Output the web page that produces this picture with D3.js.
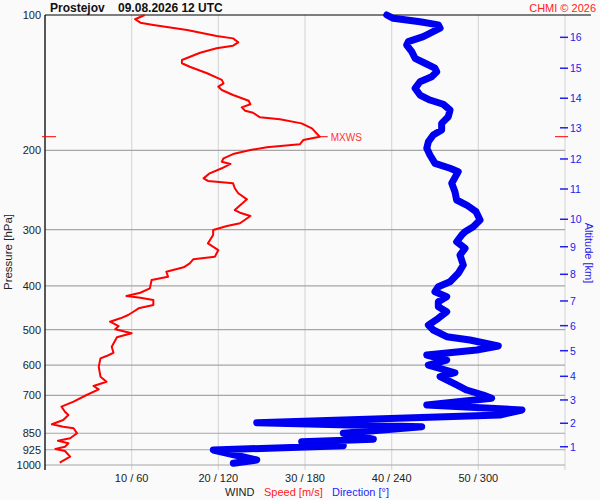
<!DOCTYPE html>
<html>
<head>
<meta charset="utf-8">
<script src="https://cdn.jsdelivr.net/npm/d3@7"></script>
<style>
  body { margin: 0; background: #fafafa; }
  svg { display: block; font-family: "Liberation Sans", Arial, sans-serif; }
</style>
</head>
<body>
<script>
var width = 600;
var height = 500;

// pressure levels [hPa] and wind speed [m/s]
var speedPres = [100.0,102.2,104.0,105.2,108.0,111.3,112.7,115.0,117.0,118.6,
  121.3,125.9,128.0,130.3,134.7,139.4,141.9,144.3,146.8,150.6,
  155.1,157.9,160.4,163.2,164.9,168.8,170.5,174.1,178.6,186.4,
  189.6,193.8,196.8,199.5,203.7,208.2,211.8,214.3,219.1,224.8,
  230.7,233.8,236.6,242.7,249.0,256.8,271.3,275.0,279.7,290.3,
  294.4,300.5,308.3,321.7,332.9,344.5,349.1,356.3,363.7,372.0,
  381.6,388.1,405.0,414.2,421.2,424.9,430.0,441.1,448.6,456.5,
  464.2,472.1,480.4,491.1,499.4,509.8,520.3,545.9,563.0,572.6,
  579.4,604.8,636.4,652.9,667.4,678.8,698.9,723.3,742.0,761.3,
  774.3,794.3,812.0,822.0,828.8,850.3,872.3,883.1,894.9,910.6,
  921.4,930.9,958.4,988.3];
var speedVals = [11.5,10.4,11.0,12.5,16.4,19.8,21.7,22.3,21.7,19.8,
  17.9,15.8,15.8,16.7,18.7,20.4,20.6,20.0,20.4,21.7,
  23.5,23.7,22.7,23.1,24.0,24.8,27.1,29.6,30.8,31.7,
  29.8,29.4,25.6,23.7,21.7,20.6,20.4,21.4,20.4,19.0,
  18.3,18.8,21.7,21.9,22.3,23.3,21.9,22.5,23.7,22.5,
  21.0,19.4,19.4,18.8,20.0,19.6,17.1,16.7,16.0,14.0,
  14.2,12.3,12.1,11.0,9.4,11.0,12.5,12.5,10.8,10.2,
  9.6,8.7,7.5,8.5,8.1,10.0,8.3,7.7,7.9,7.1,
  6.4,6.2,6.4,7.1,5.6,6.2,4.8,3.3,1.9,2.3,
  2.7,2.1,0.8,2.1,3.3,3.7,2.9,1.5,2.7,2.3,
  1.2,2.3,2.9,1.7];

// pressure levels [hPa] and wind direction [deg]
var dirPres = [100.0,101.7,103.5,105.2,107.0,111.7,114.6,116.6,120.6,124.8,
  128.0,131.3,133.7,137.1,140.7,145.5,150.6,154.5,157.9,162.6,
  168.3,174.1,180.2,184.8,191.3,197.8,204.7,213.6,219.1,222.9,
  236.6,247.0,257.7,264.4,273.6,285.5,295.4,303.1,308.3,319.1,
  330.0,341.5,359.4,375.0,391.5,401.6,412.1,422.7,433.8,445.0,
  456.5,472.1,488.6,501.2,518.7,527.6,544.0,555.3,569.7,584.5,
  599.6,623.7,636.4,664.0,681.3,698.9,710.9,735.6,754.7,774.3,
  805.4,822.0,850.3,876.8,887.6,906.0,926.2,974.7,991.3];
var dirVals = [236.6,241.1,259.6,272.3,273.5,261.9,251.5,250.4,253.9,256.2,
  263.1,270.0,271.2,267.7,259.6,256.2,259.6,266.5,275.7,280.4,
  279.2,274.6,274.6,268.8,265.4,264.3,266.5,270.0,280.4,286.1,
  281.6,283.8,285.0,291.9,298.4,301.2,296.5,290.8,288.5,285.0,
  290.8,287.3,289.6,286.1,280.4,272.3,270.0,278.1,272.3,272.3,
  278.1,272.3,265.4,268.8,278.1,294.2,313.8,298.9,264.3,278.1,
  265.4,283.8,273.5,285.0,291.9,303.4,309.2,264.3,330.2,315.0,
  146.6,260.8,206.5,227.3,177.7,206.5,116.5,146.6,130.4];

var presTicks = [100, 200, 300, 400, 500, 600, 700, 850, 925, 1000];
var speedTicks = [10, 20, 30, 40, 50];
var altKm = [1,2,3,4,5,6,7,8,9,10,11,12,13,14,15,16];
var altPres = [910.8,807.7,716.9,635.2,557.2,490.2,432.0,376.9,327.3,284.4,
  243.6,208.9,178.1,153.1,131.3,112.1];
var maxWindPres = 186.4;
var maxWindSpeed = 31.7;

var padL = 45, padR = 565, padT = 15, padB = 465;

var y = d3.scaleLog().domain([100, 1000]).range([padT, padB]);
var xs = d3.scaleLinear().domain([0, 60]).range([padL, padR]);
var xd = d3.scaleLinear().domain([0, 360]).range([padL, padR]);

var svg = d3.select("body").append("svg")
    .attr("width", width)
    .attr("height", height);

svg.append("rect").attr("width", width).attr("height", height).attr("fill", "#fafafa");

// vertical grid
svg.selectAll(".vgrid")
    .data(speedTicks.concat([60]))
    .enter().append("line")
    .attr("x1", function(d) { return xs(d); })
    .attr("x2", function(d) { return xs(d); })
    .attr("y1", padT)
    .attr("y2", padB + 5)
    .attr("stroke", "#d9d9d9")
    .attr("stroke-width", 1.2);

// horizontal grid
svg.selectAll(".hgrid")
    .data(presTicks.slice(1))
    .enter().append("line")
    .attr("x1", padL)
    .attr("x2", padR)
    .attr("y1", function(d) { return y(d); })
    .attr("y2", function(d) { return y(d); })
    .attr("stroke", "#a6a6a6")
    .attr("stroke-width", 1.2);

// frame: top and left
svg.append("line").attr("x1", padL).attr("x2", 591).attr("y1", padT).attr("y2", padT)
    .attr("stroke", "#000").attr("stroke-width", 1);
svg.append("line").attr("x1", padL).attr("x2", padL).attr("y1", padT).attr("y2", padB + 5)
    .attr("stroke", "#000").attr("stroke-width", 1.3);

// pressure labels
svg.selectAll(".plab")
    .data(presTicks)
    .enter().append("text")
    .attr("x", 41)
    .attr("y", function(d) { return y(d) + 4; })
    .attr("text-anchor", "end")
    .style("font-size", "11px")
    .attr("fill", "#222")
    .text(function(d) { return d; });

svg.append("text")
    .attr("transform", "translate(12," + 252 + ") rotate(-90)")
    .attr("text-anchor", "middle")
    .style("font-size", "11.5px")
    .attr("fill", "#222")
    .text("Pressure [hPa]");

// speed / direction labels
svg.selectAll(".xlab")
    .data(speedTicks)
    .enter().append("text")
    .attr("x", function(d) { return xs(d); })
    .attr("y", 482)
    .attr("text-anchor", "middle")
    .style("font-size", "11px")
    .attr("fill", "#222")
    .text(function(d) { return d + " / " + Math.round(xd.invert(xs(d))); });

var foot = svg.append("text").attr("y", 496).style("font-size", "11px");
foot.append("tspan").attr("x", 225).attr("fill", "#222").text("WIND");
foot.append("tspan").attr("x", 264).attr("fill", "#ff1a1a").text("Speed [m/s]");
foot.append("tspan").attr("x", 332).attr("fill", "#2424ff").text("Direction [°]");

// altitude axis
svg.selectAll(".atick")
    .data(altPres)
    .enter().append("line")
    .attr("x1", 560).attr("x2", 568)
    .attr("y1", function(d) { return y(d); })
    .attr("y2", function(d) { return y(d); })
    .attr("stroke", "#2020ee")
    .attr("stroke-width", 1.5);

svg.selectAll(".alab")
    .data(altKm)
    .enter().append("text")
    .attr("x", 570)
    .attr("y", function(d, i) { return y(altPres[i]) + 4; })
    .style("font-size", "10.5px")
    .attr("fill", "#2020ee")
    .text(function(d) { return d; });

svg.append("text")
    .attr("transform", "translate(585," + 253 + ") rotate(90)")
    .attr("text-anchor", "middle")
    .style("font-size", "11px")
    .attr("fill", "#2020ee")
    .text("Altitude [km]");

// titles
svg.append("text")
    .attr("x", 50).attr("y", 12)
    .style("font-size", "12px")
    .style("font-weight", "bold")
    .style("white-space", "pre")
    .attr("fill", "#111")
    .text("Prostejov    09.08.2026 12 UTC");

svg.append("text")
    .attr("x", 596).attr("y", 12)
    .attr("text-anchor", "end")
    .style("font-size", "11px")
    .attr("fill", "#ff2020")
    .text("CHMI © 2026");

// direction profile
var dirData = d3.zip(dirPres, dirVals);
svg.append("path")
    .datum(dirData)
    .attr("fill", "none")
    .attr("stroke", "#0000f0")
    .attr("stroke-width", 7)
    .attr("stroke-linecap", "round")
    .attr("stroke-linejoin", "round")
    .attr("d", d3.line()
        .x(function(d) { return xd(d[1]); })
        .y(function(d) { return y(d[0]); }));

// speed profile
var speedData = d3.zip(speedPres, speedVals);
svg.append("path")
    .datum(speedData)
    .attr("fill", "none")
    .attr("stroke", "#ff0000")
    .attr("stroke-width", 2)
    .attr("stroke-linejoin", "round")
    .attr("d", d3.line()
        .x(function(d) { return xs(d[1]); })
        .y(function(d) { return y(d[0]); }));

// max wind marker
var my = y(maxWindPres);
svg.append("line").attr("x1", xs(maxWindSpeed)).attr("x2", xs(maxWindSpeed) + 8)
    .attr("y1", my).attr("y2", my).attr("stroke", "#ff0000").attr("stroke-width", 1);
svg.append("text")
    .attr("x", xs(maxWindSpeed) + 11).attr("y", my + 4)
    .style("font-size", "10px")
    .attr("fill", "#ff3333")
    .text("MXWS");
svg.append("line").attr("x1", 42).attr("x2", 56).attr("y1", my).attr("y2", my)
    .attr("stroke", "#ff0000").attr("stroke-width", 1);
svg.append("line").attr("x1", 555).attr("x2", 568).attr("y1", my).attr("y2", my)
    .attr("stroke", "#ff0000").attr("stroke-width", 1);
</script>
</body>
</html>
